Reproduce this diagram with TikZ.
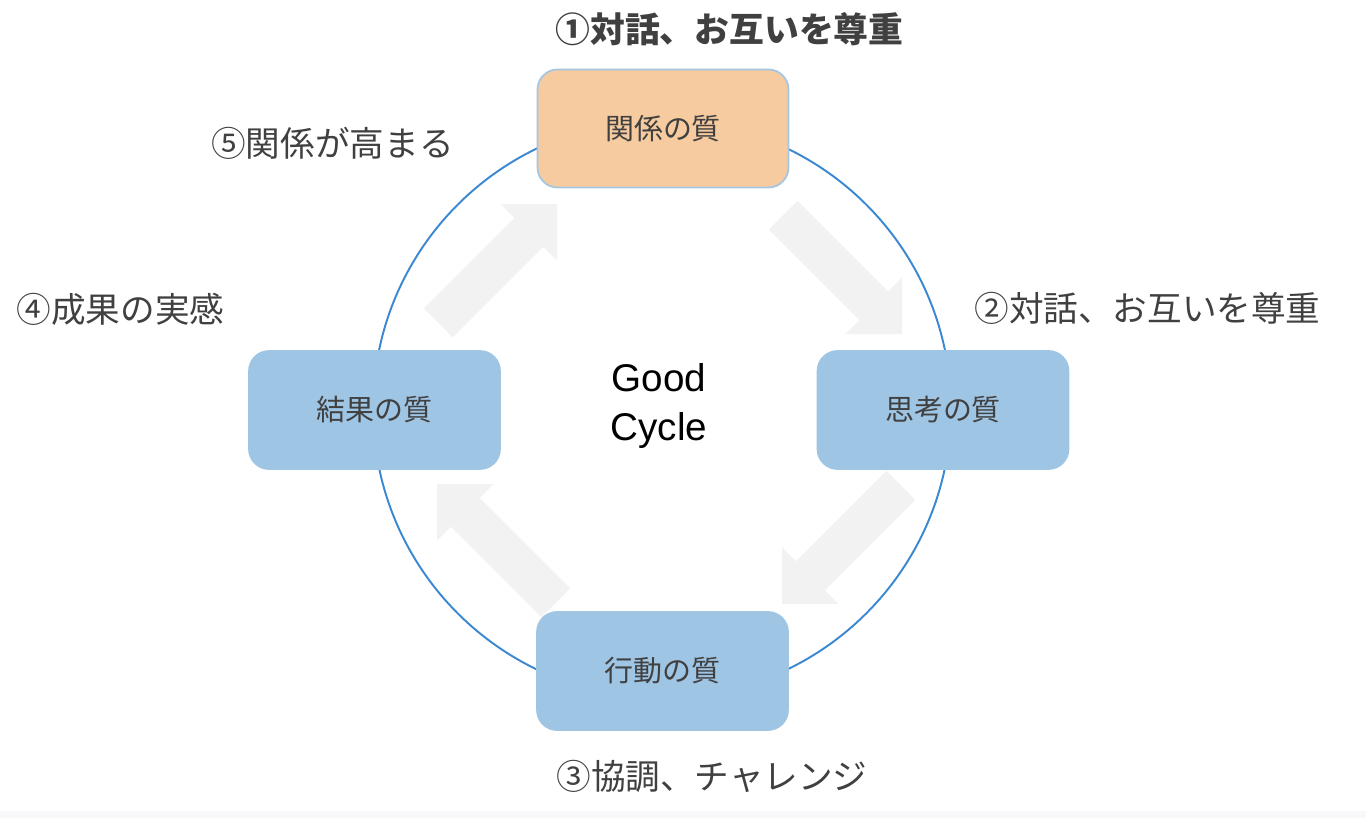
\documentclass[tikz,border=0pt]{standalone}
\usepackage{fontspec}
\setmainfont{Liberation Sans}
\newfontfamily\jp{Noto Sans CJK JP}
\usepackage{tikz}
\definecolor{kutuMavi}{HTML}{9FC5E5}
\definecolor{kutuTuruncu}{HTML}{F7CBA0}
\definecolor{kenarMavi}{HTML}{A5C6E3}
\definecolor{halkaMavi}{HTML}{3A88D2}
\definecolor{okGri}{HTML}{F2F2F2}
\definecolor{yaziGri}{HTML}{404040}
\definecolor{seritGri}{HTML}{F8F8FA}
\tikzset{
  quality/.style={rounded corners=0.4cm,minimum width=5.02cm,minimum height=2.36cm,
    fill=kutuMavi,draw=kutuMavi,line width=1pt,text=yaziGri,inner sep=0pt,
    font=\jp\fontsize{16.5}{20}\selectfont},
  phase/.style={text=yaziGri,inner sep=0pt,font=\jp\fontsize{19.7}{24}\selectfont},
}
\newcommand\cyclearrow[2]{%
  \fill[okGri,shift={(#1)},rotate=#2] (0,0) -- (-40,40) -- (-40,20.5) -- (-168,20.5)
    -- (-168,-20.5) -- (-40,-20.5) -- (-40,-40) -- cycle;}

\begin{document}
\begin{tikzpicture}[x=0.02cm,y=-0.02cm]
\useasboundingbox (0,0) rectangle (1366,818);
\fill[seritGri] (0,811) rectangle (1366,818);
\draw[halkaMavi,line width=1.1pt] (662,409) circle (5.78cm);
\cyclearrow{557,204}{45}
\cyclearrow{902,334}{-45}
\cyclearrow{782,604}{-135}
\cyclearrow{437,484}{135}
\node[quality,fill=kutuTuruncu,draw=kenarMavi] (rel) at (663,128.5) {関係の質};
\node[quality] (thought) at (943,410) {思考の質};
\node[quality] (action) at (662.5,671) {行動の質};
\node[quality] (result) at (374.5,410) {結果の質};
\node[align=center,font=\fontsize{22}{27.6}\selectfont,inner sep=0pt] (cycle) at (659,406) {Good\\Cycle};
\node[phase,font=\jp\bfseries\fontsize{19.8}{24}\selectfont] (p1) at (729.5,29) {①対話、お互いを尊重};
\node[phase] (p2) at (1147.5,308) {②対話、お互いを尊重};
\node[phase] (p3) at (712,776) {③協調、チャレンジ};
\node[phase] (p4) at (120.5,309) {④成果の実感};
\node[phase] (p5) at (332.5,143) {⑤関係が高まる};
\end{tikzpicture}
\end{document}
